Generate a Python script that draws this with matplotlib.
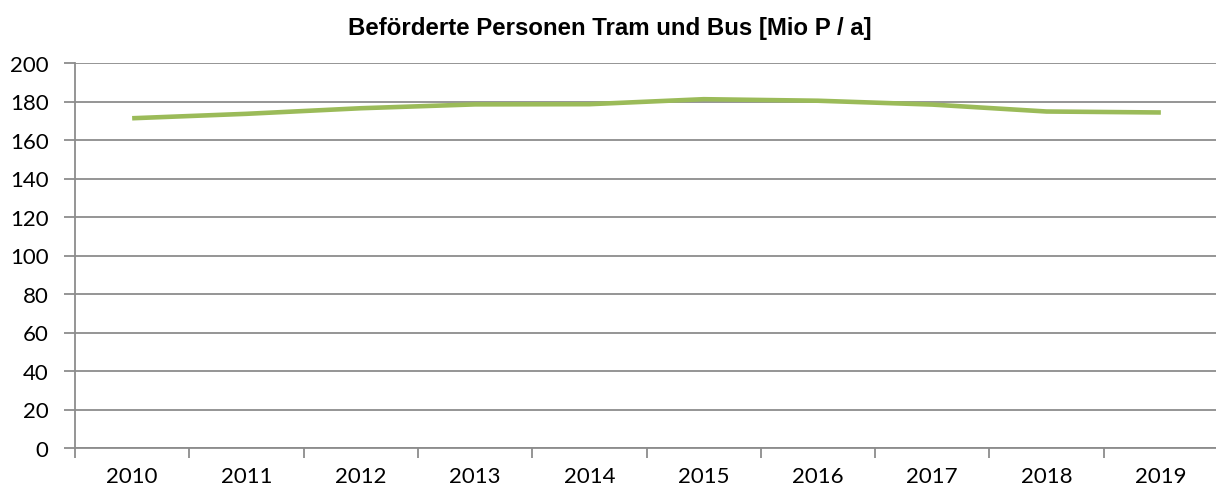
import matplotlib.pyplot as plt
import numpy as np

years = ["2010", "2011", "2012", "2013", "2014", "2015", "2016", "2017", "2018", "2019"]
passengers = [171.3, 173.6, 176.5, 178.5, 178.6, 181.2, 180.4, 178.4, 174.8, 174.3]
y_ticks = [0, 20, 40, 60, 80, 100, 120, 140, 160, 180, 200]

fig = plt.figure(figsize=(12.16, 5.02), dpi=100)
ax = fig.add_axes([75 / 1216, 1 - 449 / 502, 1143 / 1216, 385 / 502])

x = np.arange(len(years))
ax.plot(x, passengers, color="#9BBB59", linewidth=3.3, solid_capstyle="butt", zorder=3)

ax.set_xlim(-0.5, len(years) - 0.5)
ax.set_ylim(0, 200)
ax.set_yticks(y_ticks)
ax.set_yticklabels([str(v) for v in y_ticks])
ax.set_xticks(x)
ax.set_xticklabels(years)
ax.set_xticks(np.arange(len(years) + 1) - 0.5, minor=True)

ax.grid(axis="y", color="#8c8c8c", linewidth=1.3, zorder=1)
ax.tick_params(axis="x", which="major", length=0, pad=13, labelsize=16)
ax.tick_params(axis="x", which="minor", length=7, width=1.3, color="#8c8c8c")
ax.tick_params(axis="y", length=8, width=1.3, color="#8c8c8c", labelsize=16, pad=11)
for lab in ax.get_xticklabels() + ax.get_yticklabels():
    lab.set_fontfamily("Lato")

for side in ["top", "right"]:
    ax.spines[side].set_visible(False)
for side in ["left", "bottom"]:
    ax.spines[side].set_color("#8c8c8c")
    ax.spines[side].set_linewidth(1.3)

fig.text(610 / 1216, 1 - 28 / 502, "Beförderte Personen Tram und Bus [Mio P / a]",
         ha="center", va="center", fontsize=17.3, fontweight="bold", family="Liberation Sans")

fig.savefig("out.png", dpi=100)
